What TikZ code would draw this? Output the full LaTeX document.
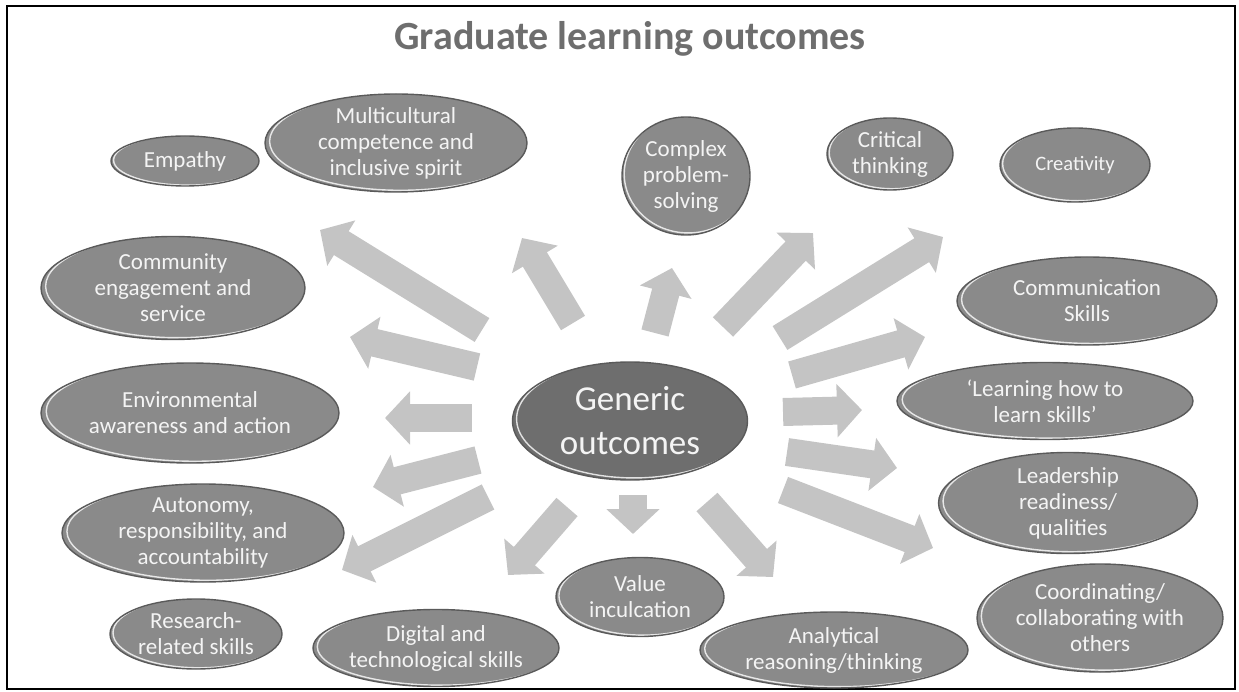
\documentclass[tikz,border=0pt]{standalone}
\usepackage{fontspec}
\setmainfont{Carlito}
\usepackage{xcolor}
\usetikzlibrary{shapes.geometric, arrows.meta, calc}

\definecolor{ovalgray}{HTML}{8A8A8A}
\definecolor{rimgray}{HTML}{5A5A5A}
\definecolor{hubgray}{HTML}{6E6E6E}
\definecolor{arrowgray}{HTML}{C4C4C4}
\definecolor{titlegray}{HTML}{6E6E6E}
\definecolor{ovaltext}{HTML}{F4F4F4}

\tikzset{
	outcome/.style={ellipse, inner xsep=-6pt, inner ysep=-8pt, fill=ovalgray, draw=rimgray, line width=1.4pt,
		text=ovaltext, align=center, font=\fontsize{23}{26}\selectfont,
		path picture={\draw [white, line width=1.4pt, opacity=0.8]
			let \p1=(path picture bounding box.north east), \p2=(path picture bounding box.center) in
			({\x2+0.035*(\x1-\x2)},{\y2+0.035*(\y1-\y2)}) ellipse [x radius={\x1-\x2}, y radius={\y1-\y2}];}},
	hub/.style={outcome, fill=hubgray, font=\fontsize{35}{44}\selectfont},
	fatarrow/.style={draw=arrowgray, line width=28pt, -{Triangle[width=52pt, length=25pt]}}
}

\begin{document}
\begin{tikzpicture}[x=1pt, y=-1pt]
	\def\picW{1239};
	\def\picH{692};

	\useasboundingbox (0,0) rectangle (\picW,\picH);
	\draw [line width=1.4pt] (7,6) rectangle (1235,689);

	\node [font=\fontsize{40}{44}\selectfont\bfseries, text=titlegray, anchor=base] (title) at (630,50) {Graduate learning outcomes};

	% tails and tips of the arrows
	\begin{scope}
		\coordinate (s-empathy) at (482,330);     \coordinate (e-empathy) at (320,230);
		\coordinate (s-multicult) at (573,323);   \coordinate (e-multicult) at (522,238);
		\coordinate (s-complexps) at (655,333);   \coordinate (e-complexps) at (672,268);
		\coordinate (s-critical) at (723,327);    \coordinate (e-critical) at (813,233);
		\coordinate (s-creativity) at (780,338);  \coordinate (e-creativity) at (943,237);
		\coordinate (s-communic) at (792,375);    \coordinate (e-communic) at (925,337);
		\coordinate (s-learnlearn) at (783,412);  \coordinate (e-learnlearn) at (862,410);
		\coordinate (s-leadership) at (787,452);  \coordinate (e-leadership) at (897,468);
		\coordinate (s-coordin) at (783,490);     \coordinate (e-coordin) at (933,548);
		\coordinate (s-analytic) at (707,502);    \coordinate (e-analytic) at (773,577);
		\coordinate (s-valueinc) at (633,495);    \coordinate (e-valueinc) at (633,534);
		\coordinate (s-digital) at (567,507);     \coordinate (e-digital) at (508,575);
		\coordinate (s-autonomy) at (488,497);    \coordinate (e-autonomy) at (342,570);
		\coordinate (s-environ) at (478,460);     \coordinate (e-environ) at (373,487);
		\coordinate (s-environb) at (472,418);    \coordinate (e-environb) at (385,418);
		\coordinate (s-community) at (477,367);   \coordinate (e-community) at (350,337);
	\end{scope}

	\foreach \n in {empathy, multicult, complexps, critical, creativity, communic, learnlearn, leadership,
		coordin, analytic, valueinc, digital, autonomy, environ, environb, community}
		\draw [fatarrow] (s-\n) -- (e-\n);

	% outcomes
	\node [hub, minimum width=235pt, minimum height=118pt] (generic) at (630,421) {Generic\\outcomes};

	\node [outcome, minimum width=148pt, minimum height=50pt] (empathy) at (185,161) {Empathy};
	\node [outcome, minimum width=262pt, minimum height=98pt] (multicult) at (396,143) {Multicultural\\competence and\\inclusive spirit};
	\node [outcome, minimum width=128pt, minimum height=118pt] (complexps) at (686,176) {Complex\\problem-\\solving};
	\node [outcome, minimum width=126pt, minimum height=72pt] (critical) at (890,154) {Critical\\thinking};
	\node [outcome, minimum width=150pt, minimum height=74pt, font=\fontsize{20.5}{24}\selectfont] (creativity) at (1075,165) {Creativity};
	\node [outcome, minimum width=260pt, minimum height=88pt] (communic) at (1087,301) {Communication\\Skills};
	\node [outcome, minimum width=296pt, minimum height=77pt] (learnlearn) at (1045,401) {`Learning how to\\learn skills'};
	\node [outcome, minimum width=259pt, minimum height=101pt] (leadership) at (1068,503) {Leadership\\readiness/\\qualities};
	\node [outcome, minimum width=246pt, minimum height=108pt] (coordin) at (1100,618) {Coordinating/\\collaborating with\\others};
	\node [outcome, minimum width=268pt, minimum height=76pt] (analytic) at (834,650) {Analytical\\reasoning/thinking};
	\node [outcome, minimum width=168pt, minimum height=79pt] (valueinc) at (640,597) {Value\\inculcation};
	\node [outcome, minimum width=246pt, minimum height=77pt] (digital) at (436,648) {Digital and\\technological skills};
	\node [outcome, minimum width=172pt, minimum height=70pt] (research) at (196,634) {Research-\\related skills};
	\node [outcome, minimum width=282pt, minimum height=98pt] (autonomy) at (203,533) {Autonomy,\\responsibility, and\\accountability};
	\node [outcome, minimum width=298pt, minimum height=100pt] (environ) at (190,413) {Environmental\\awareness and action};
	\node [outcome, minimum width=264pt, minimum height=103pt] (community) at (173,288) {Community\\engagement and\\service};
\end{tikzpicture}
\end{document}
